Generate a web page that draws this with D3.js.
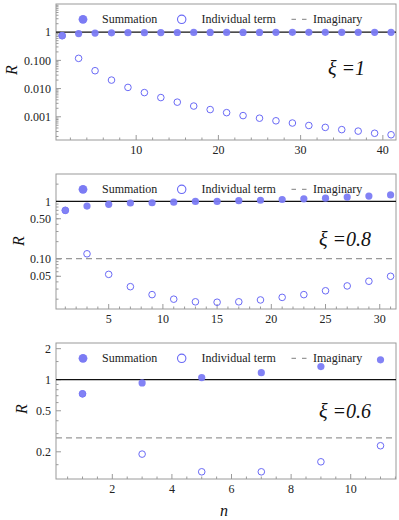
<!DOCTYPE html>
<html lang="en">
<head>
  <meta charset="UTF-8">
  <title>R vs n for several xi</title>
  <script src="https://d3js.org/d3.v7.min.js"></script>
  <style>
    body { margin: 0; padding: 0; background: #fff; }
    svg { display: block; }
  </style>
</head>
<body>
  <div id="chart"></div>
  <script>
    // values
    const n1 = [1, 3, 5, 7, 9, 11, 13, 15, 17, 19, 21, 23, 25, 27, 29, 31, 33, 35, 37, 39, 41];
    const sum1 = [0.75, 0.89, 0.93, 0.95, 0.96, 0.965, 0.97, 0.975, 0.978, 0.98, 0.982, 0.984, 0.985, 0.986, 0.987, 0.988, 0.989, 0.99, 0.99, 0.991, 0.992];
    const term1 = [0.75, 0.118, 0.043, 0.020, 0.011, 0.0072, 0.0048, 0.0033, 0.0024, 0.0018, 0.0014, 0.0011, 0.00089, 0.00072, 0.00060, 0.00049, 0.00042, 0.00035, 0.00031, 0.00026, 0.00023];

    const n2 = [1, 3, 5, 7, 9, 11, 13, 15, 17, 19, 21, 23, 25, 27, 29, 31];
    const sum2 = [0.70, 0.83, 0.89, 0.94, 0.95, 0.97, 1.0, 1.0, 1.03, 1.05, 1.08, 1.11, 1.14, 1.19, 1.24, 1.30];
    const term2 = [0.70, 0.123, 0.054, 0.033, 0.024, 0.020, 0.018, 0.0177, 0.018, 0.0194, 0.0215, 0.024, 0.028, 0.034, 0.041, 0.050];
    const imag2 = 0.101;

    const n3 = [1, 3, 5, 7, 9, 11];
    const sum3 = [0.73, 0.93, 1.05, 1.17, 1.34, 1.56];
    const term3 = [0.73, 0.19, 0.128, 0.128, 0.16, 0.229];
    const imag3 = 0.273;

    const xiLabels = ["\u03BE =1", "\u03BE =0.8", "\u03BE =0.6"];
    const legendLabels = ["Summation", "Individual term", "Imaginary"];

    const width = 399, height = 520;
    const left = 56, right = 396;
    const blue = "#7b7bf4", blueLine = "#6a6af6";
    const serif = "'Liberation Serif', 'Times New Roman', Times, 'DejaVu Serif', serif";

    const panels = [
      { top: 4, bottom: 140, xDomain: [0.25, 41.6], yDomain: [1.5e-4, 10],
        n: n1, sum: sum1, term: term1, imag: null, xi: xiLabels[0],
        xMajor: [10, 20, 30, 40], xMinorStep: 2,
        yMajor: [1, 0.1, 0.01, 0.001], yMajorLabels: ["1", "0.100", "0.010", "0.001"],
        yMinor: [], rX: 12, rY: 70, xiX: 328, xiY: 75 },
      { top: 174, bottom: 309, xDomain: [0.14, 31.5], yDomain: [0.0135, 3],
        n: n2, sum: sum2, term: term2, imag: imag2, xi: xiLabels[1],
        xMajor: [5, 10, 15, 20, 25, 30], xMinorStep: 1,
        yMajor: [1, 0.5, 0.1, 0.05], yMajorLabels: ["1", "0.50", "0.10", "0.05"],
        yMinor: [], rX: 19, rY: 241, xiX: 319, xiY: 246 },
      { top: 343, bottom: 479, xDomain: [0.11, 11.52], yDomain: [0.109, 2.27],
        n: n3, sum: sum3, term: term3, imag: imag3, xi: xiLabels[2],
        xMajor: [2, 4, 6, 8, 10], xMinorStep: 0.5,
        yMajor: [2, 1, 0.5, 0.2], yMajorLabels: ["2", "1", "0.5", "0.2"],
        yMinor: [1.5, 0.9, 0.8, 0.7, 0.6, 0.4, 0.3, 0.15], rX: 22, rY: 409, xiX: 319, xiY: 418 }
    ];

    const svg = d3.select("#chart").append("svg")
      .attr("width", width)
      .attr("height", height)
      .attr("font-family", serif);

    panels.forEach(p => {
      const x = d3.scaleLinear().domain(p.xDomain).range([left, right]);
      const y = d3.scaleLog().domain(p.yDomain).range([p.bottom, p.top]);
      const g = svg.append("g");

      // frame
      g.append("rect")
        .attr("x", left).attr("y", p.top)
        .attr("width", right - left).attr("height", p.bottom - p.top)
        .attr("fill", "none").attr("stroke", "#9a9a9a").attr("stroke-width", 1);

      // y minor ticks: log decades unless given explicitly
      let yMinor = p.yMinor;
      if (!yMinor.length) {
        yMinor = [];
        for (let e = -5; e <= 1; e++) {
          for (let k = 2; k <= 9; k++) {
            const v = k * Math.pow(10, e);
            if (v > p.yDomain[0] && v < p.yDomain[1]) yMinor.push(v);
          }
        }
      }
      g.selectAll(".ymin").data(yMinor).join("line")
        .attr("x1", left).attr("x2", left + 2.5)
        .attr("y1", d => y(d)).attr("y2", d => y(d))
        .attr("stroke", "#9a9a9a");
      g.selectAll(".ymaj").data(p.yMajor).join("line")
        .attr("x1", left).attr("x2", left + 5)
        .attr("y1", d => y(d)).attr("y2", d => y(d))
        .attr("stroke", "#9a9a9a");
      g.selectAll(".ylab").data(p.yMajor).join("text")
        .attr("x", left - 5).attr("y", d => y(d)).attr("dy", "0.35em")
        .attr("text-anchor", "end").attr("font-size", 12).attr("fill", "#222")
        .text((d, i) => p.yMajorLabels[i]);

      // x ticks
      const xMinor = d3.range(Math.ceil(p.xDomain[0] / p.xMinorStep) * p.xMinorStep, p.xDomain[1], p.xMinorStep)
        .filter(v => !p.xMajor.includes(+v.toFixed(3)));
      g.selectAll(".xmin").data(xMinor).join("line")
        .attr("x1", d => x(d)).attr("x2", d => x(d))
        .attr("y1", p.bottom).attr("y2", p.bottom - 2.5)
        .attr("stroke", "#9a9a9a");
      g.selectAll(".xmaj").data(p.xMajor).join("line")
        .attr("x1", d => x(d)).attr("x2", d => x(d))
        .attr("y1", p.bottom).attr("y2", p.bottom - 5)
        .attr("stroke", "#9a9a9a");
      g.selectAll(".xlab").data(p.xMajor).join("text")
        .attr("x", d => x(d)).attr("y", p.bottom + 14)
        .attr("text-anchor", "middle").attr("font-size", 12).attr("fill", "#222")
        .text(d => d);

      // reference lines
      g.append("line")
        .attr("x1", left).attr("x2", right)
        .attr("y1", y(1)).attr("y2", y(1))
        .attr("stroke", "#111").attr("stroke-width", 1.3);
      if (p.imag !== null) {
        g.append("line")
          .attr("x1", left).attr("x2", right)
          .attr("y1", y(p.imag)).attr("y2", y(p.imag))
          .attr("stroke", "#999").attr("stroke-width", 1.3)
          .attr("stroke-dasharray", "6,4");
      }

      // points
      g.selectAll(".term").data(p.n).join("circle")
        .attr("cx", d => x(d)).attr("cy", (d, i) => y(p.term[i]))
        .attr("r", 3.3).attr("fill", "none")
        .attr("stroke", blueLine).attr("stroke-width", 1);
      g.selectAll(".sum").data(p.n).join("circle")
        .attr("cx", d => x(d)).attr("cy", (d, i) => y(p.sum[i]))
        .attr("r", 3.6).attr("fill", blue).attr("fill-opacity", 0.95);

      // legend
      const ly = p.top + 15.3;
      g.append("circle").attr("cx", 83).attr("cy", ly).attr("r", 4.4).attr("fill", blue);
      g.append("text").attr("x", 102).attr("y", ly).attr("dy", "0.32em")
        .attr("font-size", 12).attr("fill", "#222").text(legendLabels[0]);
      g.append("circle").attr("cx", 181.7).attr("cy", ly).attr("r", 4.2)
        .attr("fill", "none").attr("stroke", blueLine).attr("stroke-width", 1.1);
      g.append("text").attr("x", 201.5).attr("y", ly).attr("dy", "0.32em")
        .attr("font-size", 12).attr("fill", "#222").text(legendLabels[1]);
      g.append("line").attr("x1", 291.5).attr("x2", 307).attr("y1", ly).attr("y2", ly)
        .attr("stroke", "#999").attr("stroke-width", 1.3).attr("stroke-dasharray", "4.5,6");
      g.append("text").attr("x", 313).attr("y", ly).attr("dy", "0.32em")
        .attr("font-size", 12).attr("fill", "#222").text(legendLabels[2]);

      // xi label
      g.append("text").attr("x", p.xiX).attr("y", p.xiY)
        .attr("font-size", 20).attr("font-style", "italic").attr("fill", "#111").text(p.xi);

      // y label
      g.append("text")
        .attr("transform", `translate(${p.rX + 5},${p.rY}) rotate(-90)`)
        .attr("text-anchor", "middle")
        .attr("font-size", 16).attr("font-style", "italic").attr("fill", "#111").text("R");
    });

    svg.append("text")
      .attr("x", 224).attr("y", 516)
      .attr("text-anchor", "middle")
      .attr("font-size", 16).attr("font-style", "italic").attr("fill", "#111").text("n");
  </script>
</body>
</html>
